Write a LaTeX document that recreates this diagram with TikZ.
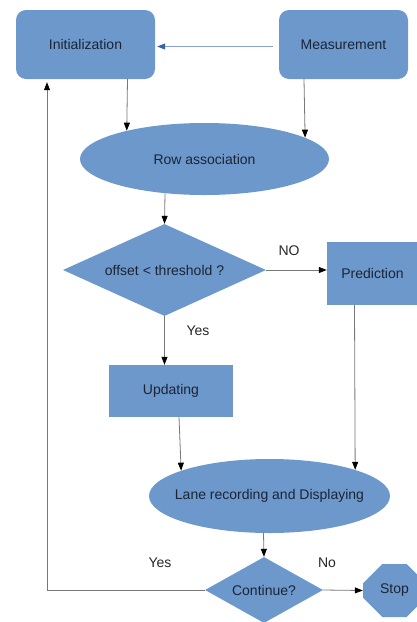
\documentclass[tikz,border=0pt]{standalone}
\usepackage{fontspec}
\setmainfont{Liberation Sans}
\usepackage{xcolor}
\usetikzlibrary{shapes.geometric, shapes.misc, arrows.meta, positioning, calc}

\definecolor{boxfill}{RGB}{108,152,204}
\definecolor{boxtext}{RGB}{28,36,52}
\definecolor{linegray}{RGB}{120,120,120}
\definecolor{linkblue}{RGB}{52,101,164}

\begin{document}
\begin{tikzpicture}[
    x=1pt, y=-1pt,
    font=\fontsize{14}{16}\selectfont,
    rbox/.style={rectangle, fill=boxfill, rounded corners=10pt, text=boxtext, inner sep=0pt},
    pbox/.style={rectangle, fill=boxfill, text=boxtext, inner sep=0pt},
    enode/.style={ellipse, fill=boxfill, text=boxtext, inner sep=0pt},
    dnode/.style={diamond, aspect=2.2, fill=boxfill, text=boxtext, inner sep=0pt},
    snode/.style={chamfered rectangle, chamfered rectangle xsep=13pt, chamfered rectangle ysep=13pt, fill=boxfill, text=boxtext, inner sep=0pt},
    lbl/.style={text=black!85},
    arr/.style={-{Triangle[length=8pt, width=6pt, color=black]}, line width=0.8pt, draw=linegray},
    barr/.style={-{Triangle[length=8pt, width=6pt, color=linkblue]}, line width=0.8pt, draw=linkblue!60}
]
\useasboundingbox (0,0) rectangle (416,622);

% Nodes
\node[rbox, minimum width=139pt, minimum height=69pt] (init) at (85.5,44.5) {Initialization};
\node[rbox, minimum width=129pt, minimum height=69pt] (meas) at (343.5,44.5) {Measurement};
\node[enode, minimum width=249pt, minimum height=72pt] (row) at (204.5,159) {Row association};
\node[dnode, minimum width=203pt, minimum height=92pt] (off) at (164.5,270) {offset < threshold ?};
\node[pbox, minimum width=91pt, minimum height=63pt] (pred) at (372.5,273.5) {Prediction};
\node[pbox, minimum width=124pt, minimum height=52pt] (upd) at (171,391) {Updating};
\node[enode, inner xsep=-14pt, minimum width=241pt, minimum height=74pt] (lane) at (269.5,496) {Lane recording and Displaying};
\node[dnode, minimum width=118pt, minimum height=66pt] (cont) at (264,590) {Continue?};
\node[snode, minimum width=63pt, minimum height=53pt] (stop) at (394.5,590.5) {Stop};

% Labels
\node[lbl] (no1) at (289,251) {NO};
\node[lbl] (yes1) at (198,331) {Yes};
\node[lbl] (yes2) at (160,563) {Yes};
\node[lbl] (no2) at (327,563) {No};

% Transitions
\draw[barr, shorten <=6pt, shorten >=2pt] ([yshift=-2pt]meas.west) -- ([yshift=-2pt]init.east);
\draw[arr] ([xshift=42pt]init.south) -- (row.160);
\draw[arr] ([xshift=-39.5pt]meas.south) -- (row.12);
\draw[arr] (row.221) -- (off.north);
\draw[arr] (off.east) -- (off.east -| pred.west);
\draw[arr] (off.south) -- (off.south |- upd.north);
\draw[arr] ([xshift=8pt]upd.south) -- (lane.164);
\draw[arr] ([xshift=-18pt]pred.south) -- (lane.17);
\draw[arr] ([xshift=-6pt]lane.south) -- (cont.north);
\draw[arr] (cont.east) -- (stop.west);
\draw[arr, shorten >=3pt] (cont.west) -| ([xshift=-38.5pt]init.south);

\end{tikzpicture}
\end{document}
